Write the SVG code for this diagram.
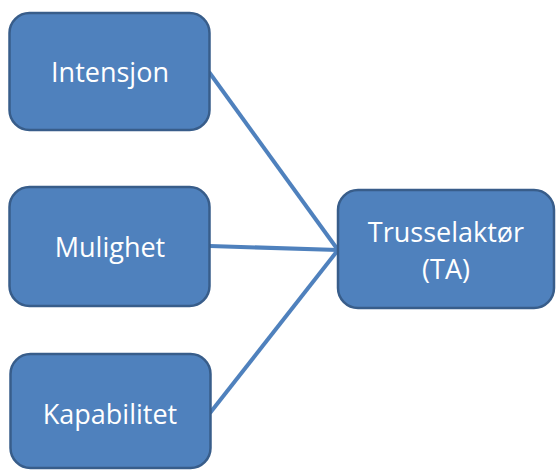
<svg xmlns="http://www.w3.org/2000/svg" width="557" height="470" viewBox="0 0 557 470">
<style>
.box{fill:#4F81BD;stroke:#385D8A;stroke-width:2.5}
.lbl{fill:#fff;font-family:"Open Sans","Liberation Sans",sans-serif;font-size:27px;text-anchor:middle}
.con{stroke:#4F81BD;stroke-width:4;fill:none}
</style>
<rect width="557" height="470" fill="#fff"/>
<g id="connectors">
<line class="con" x1="209" y1="72" x2="338" y2="250"/>
<line class="con" x1="210" y1="246" x2="338" y2="250"/>
<line class="con" x1="210" y1="413" x2="338" y2="250"/>
</g>
<g id="intensjon">
<rect class="box" x="9.5" y="13" width="200" height="117" rx="20"/>
<text class="lbl" x="110" y="82">Intensjon</text>
</g>
<g id="mulighet">
<rect class="box" x="9.5" y="187" width="200" height="119" rx="20"/>
<text class="lbl" x="110" y="257">Mulighet</text>
</g>
<g id="kapabilitet">
<rect class="box" x="10.5" y="354" width="200" height="114" rx="20"/>
<text class="lbl" x="110" y="424">Kapabilitet</text>
</g>
<g id="trusselaktor">
<rect class="box" x="338" y="190" width="216" height="118" rx="20"/>
<text class="lbl" x="446" y="242">Trusselaktør</text>
<text class="lbl" x="446" y="279">(TA)</text>
</g>
</svg>
